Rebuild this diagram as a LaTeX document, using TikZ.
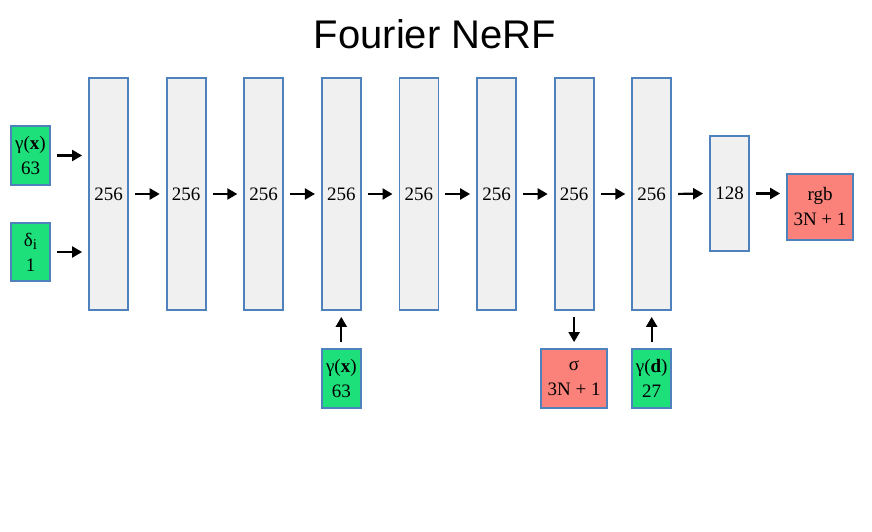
\documentclass[tikz,border=0pt]{standalone}
\usepackage{fontspec}
\setmainfont{Liberation Serif}
\newfontfamily\titlefont{Liberation Sans}
\usetikzlibrary{arrows.meta}
\definecolor{boxgreen}{RGB}{30,224,122}
\definecolor{boxred}{RGB}{250,130,122}
\definecolor{boxgrey}{RGB}{240,240,240}
\definecolor{boxedge}{RGB}{79,129,189}
\tikzset{
  x=1pt, y=-1pt,
  layer/.style={draw=boxedge, line width=1.8pt, fill=boxgrey, minimum width=39pt, minimum height=232pt, inner sep=0pt, font=\fontsize{19}{25}\selectfont},
  inbox/.style={draw=boxedge, line width=1.8pt, fill=boxgreen, minimum width=39pt, minimum height=59pt, inner sep=0pt, align=center, font=\fontsize{19}{25}\selectfont},
  outbox/.style={draw=boxedge, line width=1.8pt, fill=boxred, minimum width=66pt, minimum height=59pt, inner sep=0pt, align=center, font=\fontsize{19}{25}\selectfont},
  conn/.style={line width=2.2pt, -{Triangle[length=10pt,width=11pt]}, shorten <=6pt, shorten >=6pt},
}
\begin{document}
\begin{tikzpicture}
\useasboundingbox (0,0) rectangle (872,532);
\node[font=\titlefont\fontsize{40}{48}\selectfont] (title) at (435,34) {Fourier NeRF};
\foreach \i/\x in {1/108.5,2/186.1,3/263.7,4/341.3,5/418.9,6/496.5,7/574.1,8/651.7}{
  \node[layer] (b\i) at (\x,194) {256};
}
\node[layer, minimum height=115pt] (c) at (729.5,193.5) {128};
\node[outbox, minimum height=66pt] (rgb) at (820,207) {rgb\\3N + 1};
\node[inbox] (gx) at (30.5,155.5) {γ(\textbf{x})\\63};
\node[inbox, minimum height=58pt] (dl) at (30.5,252) {δ\raisebox{-3pt}{\fontsize{15}{15}\selectfont i}\\1};
\node[inbox] (gx2) at (341.3,378.5) {γ(\textbf{x})\\63};
\node[outbox] (sig) at (574.1,378.5) {σ\\3N + 1};
\node[inbox] (gd) at (651.7,378.5) {γ(\textbf{d})\\27};
\draw[conn] (gx.east) -- (gx.east -| b1.west);
\draw[conn] (dl.east) -- (dl.east -| b1.west);
\foreach \a/\b in {1/2,2/3,3/4,4/5,5/6,6/7,7/8}{
  \draw[conn] (b\a.east) -- (b\b.west);
}
\draw[conn] (b8.east) -- (c.west);
\draw[conn] (c.east) -- (c.east -| rgb.west);
\draw[conn] (gx2.north) -- (b4.south);
\draw[conn] (b7.south) -- (sig.north);
\draw[conn] (gd.north) -- (b8.south);
\end{tikzpicture}
\end{document}
